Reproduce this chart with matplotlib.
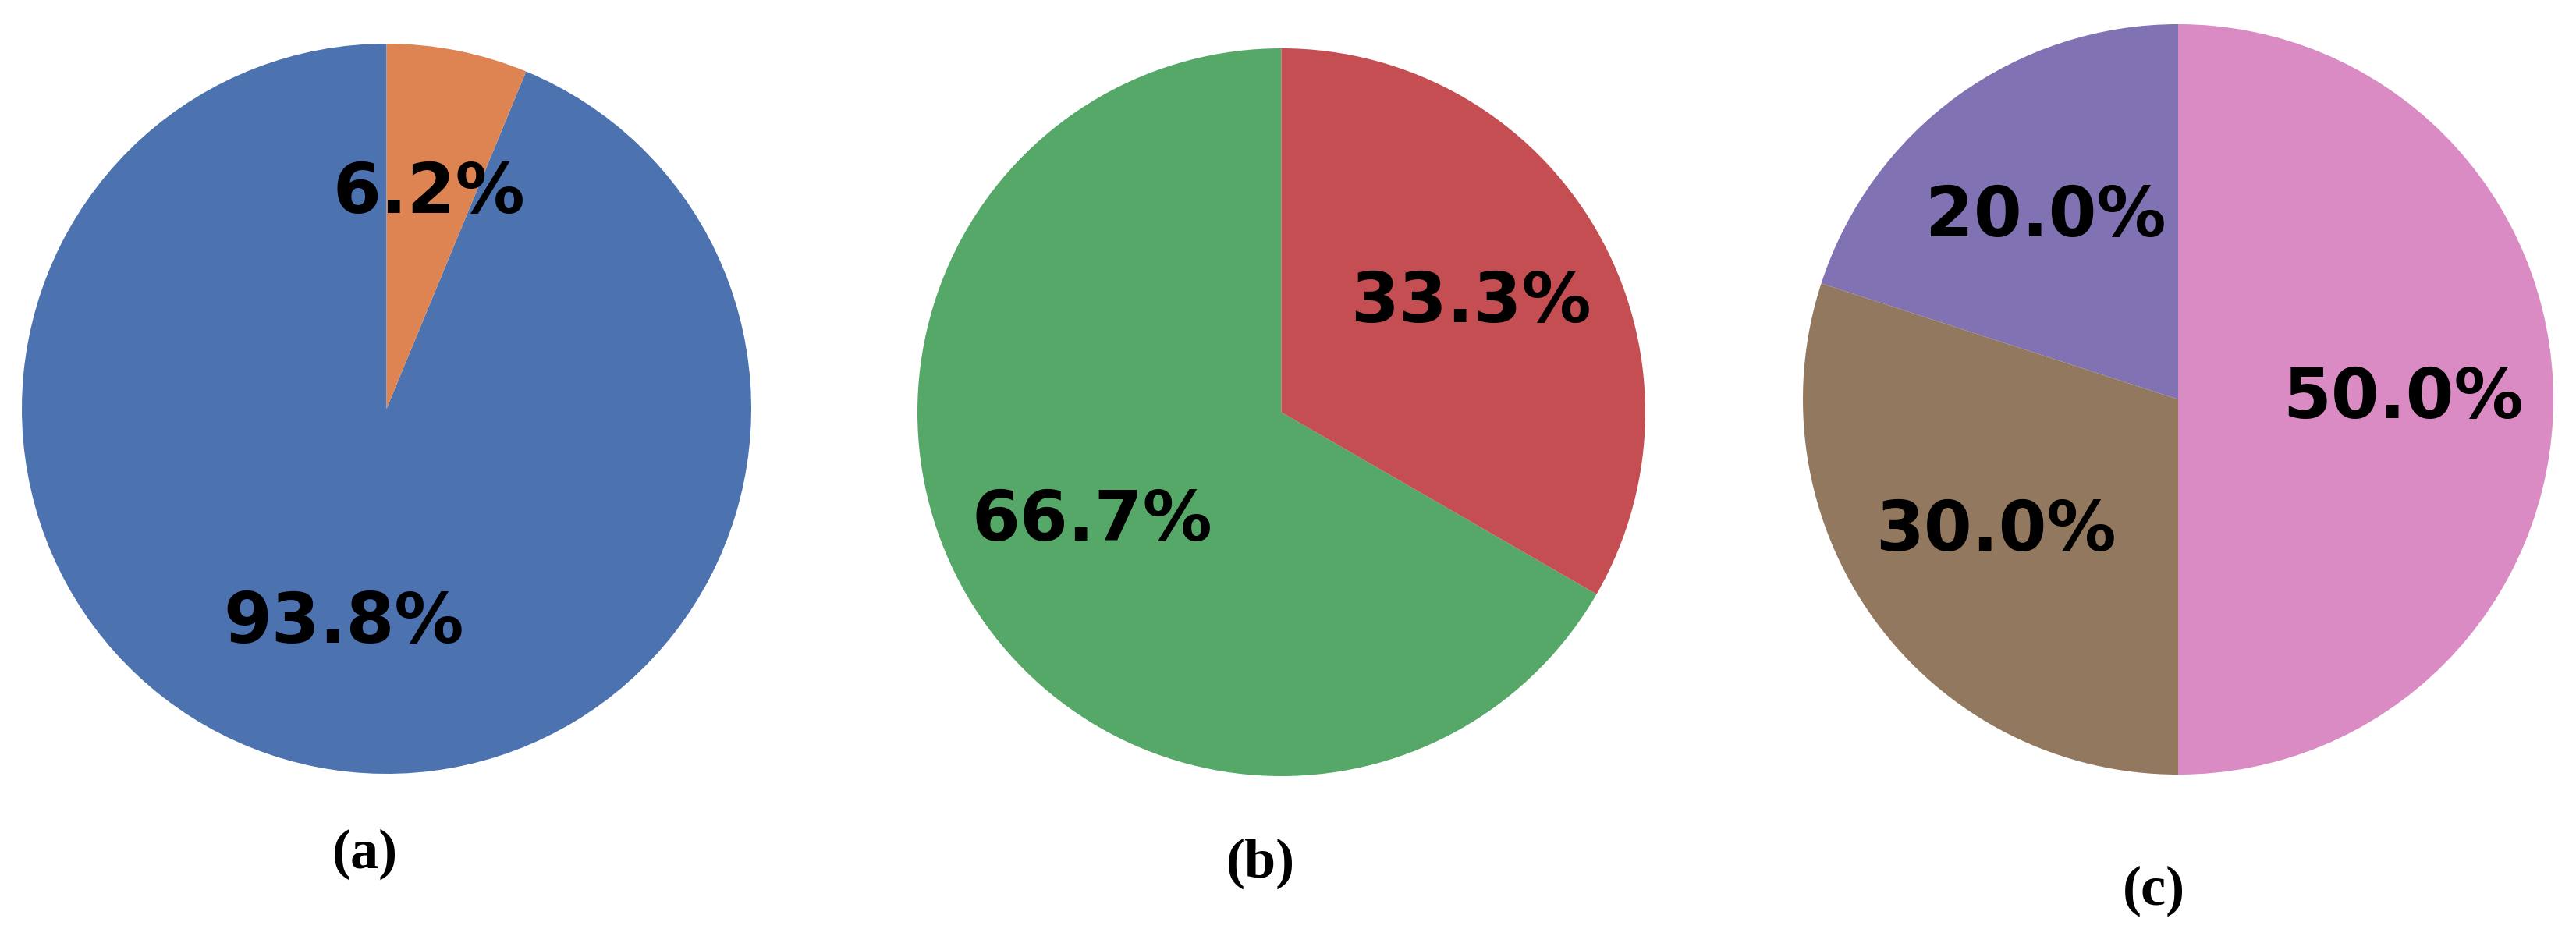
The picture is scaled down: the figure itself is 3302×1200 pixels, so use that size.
import matplotlib.pyplot as plt

# seaborn "deep" palette
deep = ['#4C72B0', '#DD8452', '#55A868', '#C44E52', '#8172B3', '#937860', '#DA8BC3']

# data for each panel (counts)
sizes_a = [15, 1]
colors_a = [deep[0], deep[1]]

sizes_b = [2, 1]
colors_b = [deep[2], deep[3]]

sizes_c = [2, 3, 5]
colors_c = [deep[4], deep[5], deep[6]]

captions = ['(a)', '(b)', '(c)']

W, H = 3302, 1200
fig = plt.figure(figsize=(W / 100, H / 100), dpi=100)

# pixel boxes of the pies: left, top, right, bottom
boxes = [(28, 56, 963, 992), (1176, 62, 2109, 995), (2311, 31, 3273, 993)]
# caption centres in pixels
cap_pos = [(468, 1095), (1616, 1107), (2761, 1142)]

panels = [(sizes_a, colors_a), (sizes_b, colors_b), (sizes_c, colors_c)]

for (sizes, cols), (l, t, r, b), cap, (cx, cy) in zip(panels, boxes, captions, cap_pos):
    ax = fig.add_axes([l / W, 1 - b / H, (r - l) / W, (b - t) / H])
    ax.pie(sizes, colors=cols, startangle=90, autopct='%1.1f%%',
           textprops={'fontsize': 64, 'fontweight': 'bold', 'color': 'black'})
    ax.set_xlim(-1, 1)
    ax.set_ylim(-1, 1)
    ax.set_aspect('auto')
    fig.text(cx / W, 1 - cy / H, cap, ha='center', va='center',
             fontsize=52, fontweight='bold', family='Liberation Serif')

fig.savefig('out.png', dpi=100)
